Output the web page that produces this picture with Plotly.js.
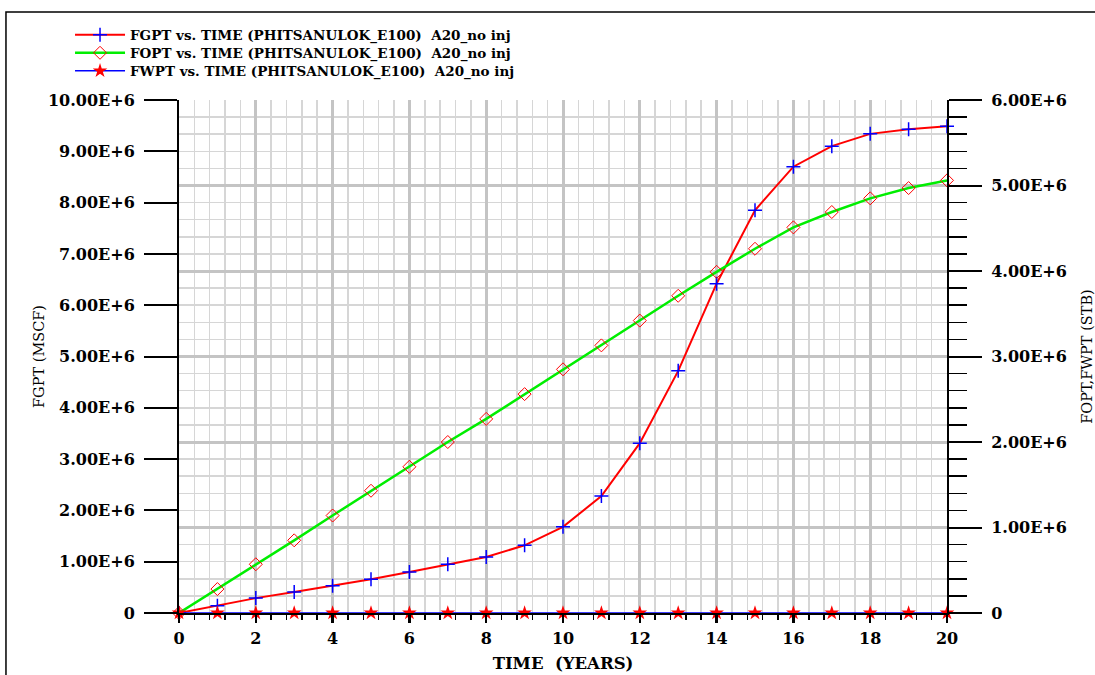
<!DOCTYPE html>
<html><head><meta charset="utf-8">
<script src="https://cdn.plot.ly/plotly-3.0.1.min.js"></script>
<style>html,body{margin:0;padding:0;background:#fff;} #chart{width:1095px;height:675px;}</style>
</head><body><div id="chart"></div>
<script>
const years = [0,1,2,3,4,5,6,7,8,9,10,11,12,13,14,15,16,17,18,19,20];
const fgpt = [0,0.14e6,0.29e6,0.41e6,0.53e6,0.66e6,0.80e6,0.95e6,1.09e6,1.32e6,1.68e6,2.28e6,3.31e6,4.72e6,6.42e6,7.85e6,8.70e6,9.10e6,9.34e6,9.43e6,9.49e6];
const fopt = [0,0.28e6,0.57e6,0.85e6,1.14e6,1.43e6,1.71e6,2.00e6,2.27e6,2.56e6,2.85e6,3.13e6,3.42e6,3.71e6,3.99e6,4.26e6,4.51e6,4.69e6,4.85e6,4.97e6,5.06e6];
const fwpt = [0,0,0,0,0,0,0,0,0,0,0,0,0,0,0,0,0,0,0,0,0];
const seriesNames = [
  'FGPT vs. TIME (PHITSANULOK_E100)\u00a0 A20_no inj',
  'FOPT vs. TIME (PHITSANULOK_E100)\u00a0 A20_no inj',
  'FWPT vs. TIME (PHITSANULOK_E100)\u00a0 A20_no inj'
];
const xTickVals = [0,2,4,6,8,10,12,14,16,18,20];
const xTickText = ['0','2','4','6','8','10','12','14','16','18','20'];
const leftTickVals = [0,1e6,2e6,3e6,4e6,5e6,6e6,7e6,8e6,9e6,10e6];
const leftTickText = ['0','1.00E+6','2.00E+6','3.00E+6','4.00E+6','5.00E+6','6.00E+6','7.00E+6','8.00E+6','9.00E+6','10.00E+6'];
const rightTickVals = [0,1e6,2e6,3e6,4e6,5e6,6e6];
const rightTickText = ['0','1.00E+6','2.00E+6','3.00E+6','4.00E+6','5.00E+6','6.00E+6'];
const xTitle = 'TIME\u00a0 (YEARS)';
const leftTitle = 'FGPT (MSCF)';
const rightTitle = 'FOPT,FWPT (STB)';

const serif = 'DejaVu Serif';
const tickFont = {family: serif, size: 16, color: '#000', weight: 'bold'};
const legendFont = {family: serif, size: 13.5, color: '#000', weight: 'bold'};

const traces = [
  {x: years, y: fgpt, name: seriesNames[0], type: 'scatter', mode: 'lines+markers', yaxis: 'y', legend: 'legend',
   line: {color: '#ff0000', width: 2},
   marker: {symbol: 'cross-thin', size: 10, color: '#0000ff', line: {color: '#0000ff', width: 1.5}},
   cliponaxis: false},
  {x: years, y: fopt, name: seriesNames[1], type: 'scatter', mode: 'lines+markers', yaxis: 'y2', legend: 'legend2',
   line: {color: '#00ee00', width: 2.5},
   marker: {symbol: 'diamond-open', size: 10, color: '#ff0000', line: {color: '#ff3030', width: 1}},
   cliponaxis: false},
  {x: years, y: fwpt, name: seriesNames[2], type: 'scatter', mode: 'lines+markers', yaxis: 'y2', legend: 'legend3',
   line: {color: '#0000ff', width: 1.5},
   marker: {symbol: 'star', size: 11, color: '#ff0000', line: {width: 0}},
   cliponaxis: false}
];

function legendAt(y) {
  return {x: -0.1419, y: y, xanchor: 'left', yanchor: 'middle', bgcolor: 'rgba(0,0,0,0)',
          font: legendFont, itemwidth: 50, borderwidth: 0};
}

const layout = {
  width: 1095, height: 675,
  margin: {l: 179, r: 148, t: 100, b: 62, pad: 0},
  paper_bgcolor: '#fff', plot_bgcolor: '#fff',
  showlegend: true,
  legend: legendAt(1.1267),
  legend2: legendAt(1.0916),
  legend3: legendAt(1.0565),
  xaxis: {
    range: [0, 20], tickmode: 'array', tickvals: xTickVals, ticktext: xTickText,
    ticks: 'outside', ticklen: 8, tickwidth: 2.5, tickcolor: '#000',
    showline: true, linecolor: '#000', linewidth: 2, zeroline: false,
    showgrid: true, gridcolor: '#c4c4c4', gridwidth: 3,
    minor: {dtick: 0.4, tick0: 0, ticks: 'outside', ticklen: 5, tickwidth: 1.5, tickcolor: '#000',
            showgrid: true, gridcolor: '#d6d6d6', gridwidth: 1.5},
    tickfont: tickFont, ticklabelstandoff: 2,
    title: {text: xTitle, font: {family: serif, size: 16.5, color: '#000', weight: 'bold'}, standoff: 10},
    automargin: false, fixedrange: true
  },
  yaxis: {
    range: [0, 10e6], tickmode: 'array', tickvals: leftTickVals, ticktext: leftTickText,
    ticks: 'outside', ticklen: 33, tickwidth: 2, tickcolor: '#000',
    showline: true, linecolor: '#000', linewidth: 2, zeroline: false, showgrid: false,
    tickfont: tickFont, ticklabelstandoff: 6,
    title: {text: leftTitle, font: {family: serif, size: 14.5, color: '#000'}, standoff: 0},
    automargin: false, fixedrange: true
  },
  yaxis3: {
    overlaying: 'y', side: 'left', anchor: 'x',
    range: [0, 10e6], tickmode: 'linear', tick0: 0, dtick: 0.2e6,
    ticks: 'outside', ticklen: 18, tickwidth: 1.5, tickcolor: '#000',
    showticklabels: false, showline: false, zeroline: false, showgrid: false,
    automargin: false, fixedrange: true
  },
  yaxis2: {
    overlaying: 'y', side: 'right',
    range: [0, 6e6], tickmode: 'array', tickvals: rightTickVals, ticktext: rightTickText,
    ticks: 'outside', ticklen: 33, tickwidth: 2, tickcolor: '#000',
    showline: true, linecolor: '#000', linewidth: 2, zeroline: false,
    showgrid: true, gridcolor: '#c4c4c4', gridwidth: 3,
    minor: {dtick: 0.2e6, tick0: 0, ticks: 'outside', ticklen: 18, tickwidth: 1.5, tickcolor: '#000',
            showgrid: true, gridcolor: '#d6d6d6', gridwidth: 1.5},
    tickfont: tickFont, ticklabelstandoff: 6,
    title: {text: rightTitle, font: {family: serif, size: 14.5, color: '#000'}, standoff: 19},
    automargin: false, fixedrange: true
  },
  shapes: [
    {type: 'rect', xref: 'paper', yref: 'paper', x0: -0.2253, x1: 1.3, y0: -0.2, y1: 1.1715,
     line: {color: '#000', width: 1.5}, fillcolor: 'rgba(0,0,0,0)', layer: 'below'}
  ]
};

Plotly.newPlot('chart', traces, layout, {displayModeBar: false, staticPlot: true});
</script>
</body></html>
